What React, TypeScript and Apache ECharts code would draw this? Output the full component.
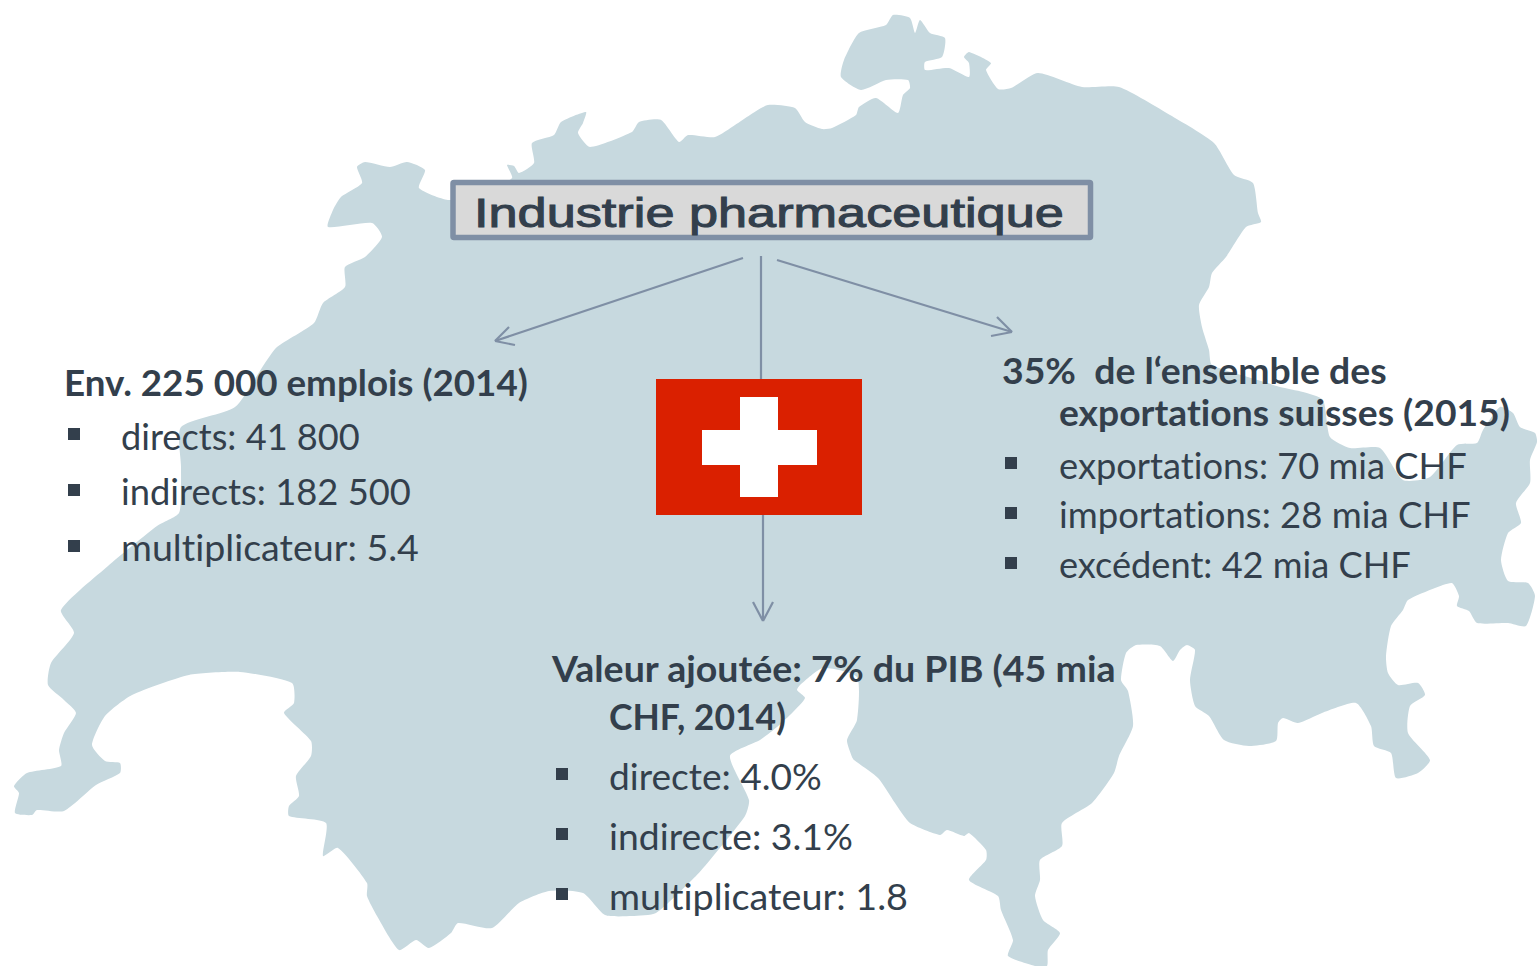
import React, { useEffect, useRef } from "react";
import * as echarts from "echarts";

const TITLE = "Industrie pharmaceutique";
const LEFT_HEAD = "Env. 225 000 emplois (2014)";
const LEFT_ITEMS = ["directs: 41 800", "indirects: 182 500", "multiplicateur: 5.4"];
const RIGHT_HEAD = ["35%  de l‘ensemble des", "exportations suisses (2015)"];
const RIGHT_ITEMS = ["exportations: 70 mia CHF", "importations: 28 mia CHF", "excédent: 42 mia CHF"];
const CENTER_HEAD = ["Valeur ajoutée: 7% du PIB (45 mia", "CHF, 2014)"];
const CENTER_ITEMS = ["directe: 4.0%", "indirecte: 3.1%", "multiplicateur: 1.8"];

const MAP_OUTLINE: number[][] = [
  [328,227],[333,210],[341,197],[362,183],[357,167],[365,162],[390,167],[407,162],[425,170],[419,188],[448,200],
  [480,195],[512,178],[507,165],[514,166],[519,173],[534,163],[532,143],[554,135],[561,122],[586,112],[583,123],[578,133],[590,147],
  [632,132],[639,122],[661,120],[679,142],[688,135],[715,137],[735,125],[750,115],[768,105],[795,108],[805,122],[822,129],
  [832,128],[856,115],[859,107],[876,98],[898,113],[903,95],[910,88],[908,80],[886,80],[861,90],[841,77],[844,60],[859,33],[886,25],[893,15],
  [910,18],[915,33],[920,20],[930,33],[945,38],[942,57],[925,62],[925,70],[949,68],[969,77],[969,63],[964,57],[969,52],[991,63],[986,70],
  [998,89],[1011,88],[1038,73],[1082,87],[1119,87],[1170,115],[1214,143],[1234,175],[1253,183],[1258,213],[1261,222],[1246,227],[1226,257],
  [1212,273],[1209,287],[1199,305],[1202,327],[1209,350],[1212,365],[1268,383],[1280,387],[1303,392],[1323,400],[1330,437],[1350,448],[1380,448],
  [1403,480],[1430,477],[1457,445],[1477,443],[1483,430],[1500,407],[1513,413],[1520,427],[1535,433],[1537,442],[1530,460],[1530,483],
  [1516,503],[1521,523],[1508,533],[1501,560],[1508,581],[1528,583],[1535,596],[1526,626],[1508,623],[1477,623],[1469,611],[1457,606],[1459,596],
  [1452,583],[1435,588],[1408,600],[1403,610],[1391,626],[1386,656],[1388,673],[1398,685],[1418,683],[1425,695],[1410,706],[1408,733],[1430,760],
  [1418,773],[1396,778],[1391,753],[1374,746],[1371,726],[1356,703],[1322,713],[1298,723],[1283,718],[1278,723],[1276,741],[1249,746],[1224,740],
  [1209,716],[1195,706],[1190,680],[1195,650],[1187,645],[1180,650],[1173,661],[1160,646],[1136,645],[1126,653],[1121,680],[1128,691],[1133,726],
  [1119,756],[1114,773],[1092,803],[1062,823],[1062,846],[1040,860],[1040,880],[1035,896],[1043,920],[1060,933],[1048,950],[1047,966],[1035,966],
  [1008,956],[1013,940],[1001,910],[998,896],[969,880],[986,860],[986,850],[969,833],[964,836],[947,830],[940,835],[910,823],[895,803],[878,778],
  [854,760],[852,757],[847,740],[857,720],[857,677],[823,668],[800,685],[797,690],[805,698],[793,712],[777,727],[760,740],[730,756],[749,800],
  [745,816],[710,860],[696,876],[656,913],[632,916],[605,915],[583,893],[549,891],[519,903],[492,928],[458,923],[451,933],[429,948],[416,940],
  [399,950],[377,916],[367,896],[367,883],[338,848],[323,856],[326,823],[289,816],[289,806],[299,796],[296,776],[311,756],[311,741],[284,713],
  [294,703],[292,683],[240,672],[189,675],[132,695],[105,716],[92,745],[105,761],[120,763],[120,773],[96,785],[64,811],[37,810],[32,815],[15,813],
  [19,793],[14,786],[27,773],[61,766],[59,750],[64,733],[76,713],[64,700],[48,685],[51,663],[74,633],[61,610],[108,566],[157,526],[179,513],
  [181,483],[181,467],[181,427],[235,407],[265,363],[277,347],[314,323],[323,303],[345,287],[345,267],[365,257],[382,237],[372,223],
];

const INK = "#333f4c";
const ARROW = "#7f8fa5";
const FONT = "Lato";
const SIZE = 36;

function measure(str: string, font: string) {
  const span = document.createElement("span");
  span.style.cssText = "position:absolute;visibility:hidden;white-space:pre;";
  span.style.font = font;
  span.style.fontVariantLigatures = "none";
  span.textContent = str;
  document.body.appendChild(span);
  const w = span.getBoundingClientRect().width;
  span.remove();
  return w;
}

function label(str: string, x: number, right: number, baseline: number, bold: boolean) {
  const font = `${bold ? "bold" : "normal"} ${SIZE}px ${FONT}`;
  return {
    type: "text", x: x - 1, y: baseline - SIZE * 0.37 + 1.5, scaleX: (right - x + 1) / measure(str, font), silent: true,
    style: { text: str, x: 0, y: 0, fill: INK, fontFamily: FONT, fontSize: SIZE, fontWeight: bold ? "bold" : "normal", align: "left", verticalAlign: "middle" },
  };
}
function bullet(x: number, y: number) {
  return { type: "rect", silent: true, shape: { x, y, width: 12, height: 12 }, style: { fill: INK } };
}
function seg(x1: number, y1: number, x2: number, y2: number) {
  return { type: "line", silent: true, shape: { x1, y1, x2, y2 }, style: { stroke: ARROW, lineWidth: 2.2, fill: "none" } };
}

function buildGraphic() {
  const titleFont = "normal 40px 'Liberation Sans'";
  return [
    { type: "polygon", silent: true, shape: { points: MAP_OUTLINE, smooth: 0.2 }, style: { fill: "#c7d9df" } },
    seg(743, 258, 495, 341), seg(495, 341, 509, 327), seg(495, 341, 515, 345),
    seg(761, 256, 761, 380), seg(763, 514, 763, 620), seg(763, 621, 753, 602), seg(763, 621, 773, 602),
    seg(777, 260, 1012, 332), seg(1012, 332, 997, 317), seg(1012, 332, 991, 336),
    { type: "rect", silent: true, shape: { x: 453, y: 182.5, width: 637.5, height: 55, r: 1 }, style: { fill: "#d9d9d9", stroke: "#7f8fa5", lineWidth: 5.5 } },
    {
      type: "text", x: 474, y: 213, scaleX: 590 / measure(TITLE, titleFont), silent: true,
      style: { text: TITLE, x: 0, y: 0, fill: INK, stroke: INK, lineWidth: 1, fontFamily: "Liberation Sans", fontSize: 40, align: "left", verticalAlign: "middle" },
    },
    { type: "rect", silent: true, shape: { x: 656, y: 379, width: 206, height: 136 }, style: { fill: "#da2000" } },
    { type: "rect", silent: true, shape: { x: 702, y: 430, width: 115, height: 35 }, style: { fill: "#ffffff" } },
    { type: "rect", silent: true, shape: { x: 740, y: 397, width: 38, height: 100 }, style: { fill: "#ffffff" } },

    label(LEFT_HEAD, 65, 528, 394, true),
    label(LEFT_ITEMS[0], 122, 360, 448, false),
    label(LEFT_ITEMS[1], 122, 411, 503, false),
    label(LEFT_ITEMS[2], 122, 419, 559, false),
    bullet(68, 428), bullet(68, 484), bullet(68, 540),

    label(RIGHT_HEAD[0], 1003, 1387, 382, true),
    label(RIGHT_HEAD[1], 1060, 1510, 424.5, true),
    label(RIGHT_ITEMS[0], 1060, 1467, 477, false),
    label(RIGHT_ITEMS[1], 1060, 1471, 526, false),
    label(RIGHT_ITEMS[2], 1060, 1411, 576, false),
    bullet(1005, 457), bullet(1005, 507), bullet(1005, 557),

    label(CENTER_HEAD[0], 553, 1116, 680, true),
    label(CENTER_HEAD[1], 610, 786, 728, true),
    label(CENTER_ITEMS[0], 610, 822, 788, false),
    label(CENTER_ITEMS[1], 610, 853, 848, false),
    label(CENTER_ITEMS[2], 610, 908, 908, false),
    bullet(556, 768), bullet(556, 828), bullet(556, 888),
  ];
}

export default function App() {
  const ref = useRef<HTMLDivElement>(null);
  useEffect(() => {
    const chart = echarts.init(ref.current!, undefined, { renderer: "svg" });
    chart.setOption({ animation: false, backgroundColor: "#ffffff", graphic: { elements: buildGraphic() } });
    return () => chart.dispose();
  }, []);
  return (
    <>
      <style>{"svg text { font-variant-ligatures: none; }"}</style>
      <div ref={ref} style={{ position: "absolute", left: 0, top: 0, width: 1537, height: 966 }} />
    </>
  );
}
